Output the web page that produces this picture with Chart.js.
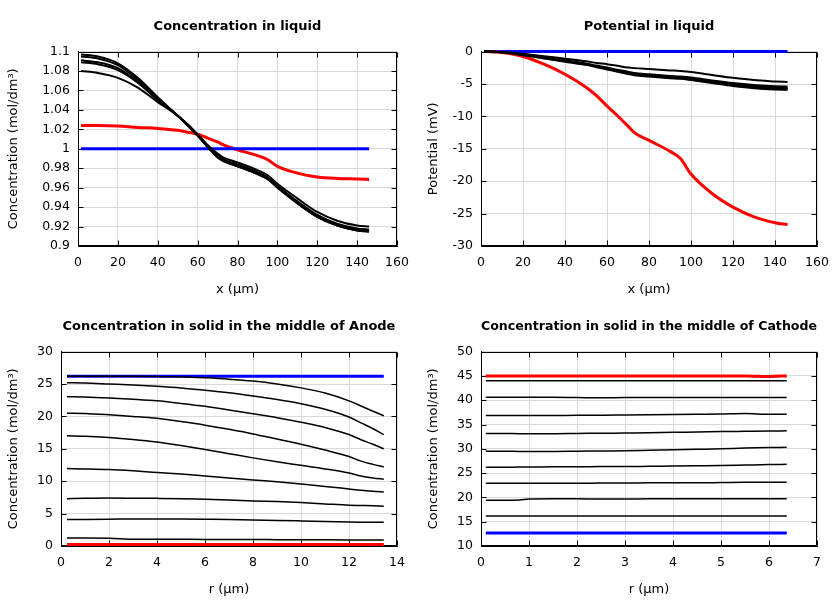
<!DOCTYPE html>
<html>
<head>
<meta charset="utf-8">
<script src="https://cdn.jsdelivr.net/npm/chart.js@4.4.1/dist/chart.umd.min.js"></script>
<style>
  body { margin:0; background:#fff; }
  #wrap { position:relative; width:840px; height:600px; }
  canvas { position:absolute; }
</style>
</head>
<body>
<div id="wrap">
  <canvas id="liqConc" width="420" height="300" style="left:0;top:0"></canvas>
  <canvas id="liqPot" width="420" height="300" style="left:420px;top:0"></canvas>
  <canvas id="anode" width="420" height="300" style="left:0;top:300px"></canvas>
  <canvas id="cathode" width="420" height="300" style="left:420px;top:300px"></canvas>
</div>
<script>
// --- liquid phase, x in µm ---
const xLiquid = [1.5, 10, 20, 30, 40, 50, 55, 60, 65, 70, 73, 80, 90, 95, 100, 110, 120, 130, 140, 146];

const concA = [1.080, 1.078, 1.073, 1.063, 1.048, 1.034, 1.025, 1.015, 1.004, 0.995, 0.991, 0.986, 0.978, 0.973, 0.964, 0.949, 0.935, 0.926, 0.921, 0.920];
const concB = [1.089, 1.087, 1.081, 1.068, 1.050, 1.034, 1.025, 1.014, 1.003, 0.993, 0.989, 0.984, 0.976, 0.971, 0.962, 0.946, 0.932, 0.923, 0.918, 0.917];
const concC = [1.091, 1.089, 1.083, 1.069, 1.051, 1.034, 1.025, 1.014, 1.002, 0.992, 0.988, 0.983, 0.975, 0.970, 0.961, 0.945, 0.931, 0.922, 0.917, 0.916];
const concD = [1.095, 1.093, 1.086, 1.071, 1.052, 1.034, 1.024, 1.0135, 1.002, 0.991, 0.987, 0.982, 0.974, 0.969, 0.960, 0.944, 0.930, 0.921, 0.916, 0.915];
const concE = [1.097, 1.095, 1.088, 1.073, 1.053, 1.034, 1.024, 1.0135, 1.002, 0.992, 0.988, 0.982, 0.974, 0.969, 0.961, 0.944, 0.930, 0.921, 0.916, 0.915];
const concRed = [1.024, 1.024, 1.0235, 1.022, 1.021, 1.019, 1.017, 1.015, 1.011, 1.007, 1.004, 0.999, 0.993, 0.989, 0.982, 0.975, 0.971, 0.9695, 0.969, 0.9685];
const concBlue = [1, 1, 1, 1, 1, 1, 1, 1, 1, 1, 1, 1, 1, 1, 1, 1, 1, 1, 1, 1];

const potL1 = [0, -0.05, -0.35, -0.7, -1.1, -1.5, -1.75, -1.95, -2.2, -2.45, -2.55, -2.7, -2.9, -3.0, -3.15, -3.6, -4.05, -4.4, -4.6, -4.7];
const potL2 = [0, -0.1, -0.45, -0.9, -1.35, -1.85, -2.15, -2.45, -2.8, -3.1, -3.3, -3.5, -3.75, -3.85, -4.0, -4.45, -4.85, -5.15, -5.35, -5.4];
const potL3 = [0, -0.1, -0.5, -0.95, -1.45, -1.95, -2.25, -2.55, -2.9, -3.25, -3.45, -3.65, -3.9, -4.0, -4.15, -4.6, -5.0, -5.35, -5.55, -5.6];
const potL4 = [0, -0.1, -0.5, -1.0, -1.5, -2.0, -2.3, -2.65, -3.0, -3.35, -3.55, -3.75, -4.0, -4.1, -4.3, -4.75, -5.15, -5.5, -5.7, -5.75];
const potL5 = [0, -0.1, -0.55, -1.05, -1.55, -2.05, -2.4, -2.75, -3.1, -3.45, -3.65, -3.85, -4.1, -4.2, -4.4, -4.85, -5.3, -5.65, -5.85, -5.9];
const potRed = [0, -0.15, -0.75, -1.95, -3.5, -5.5, -6.8, -8.4, -9.9, -11.5, -12.5, -13.7, -15.4, -16.5, -18.9, -21.9, -24.0, -25.5, -26.4, -26.7];
const potBlue = [0, 0, 0, 0, 0, 0, 0, 0, 0, 0, 0, 0, 0, 0, 0, 0, 0, 0, 0, 0];

// --- solid phase, r in µm ---
const rAnode = [0.25, 1, 2, 3, 4, 5, 6, 7, 8, 9, 10, 11, 12, 12.5, 13, 13.45];
const anode1 = [26.2, 26.2, 26.2, 26.2, 26.15, 26.1, 25.95, 25.75, 25.45, 25.0, 24.4, 23.6, 22.4, 21.6, 20.8, 20.1];
const anode2 = [25.2, 25.15, 25.0, 24.85, 24.65, 24.4, 24.05, 23.65, 23.15, 22.6, 21.95, 21.1, 19.9, 19.0, 18.1, 17.2];
const anode3 = [23.05, 23.0, 22.85, 22.65, 22.4, 22.0, 21.55, 21.0, 20.4, 19.8, 19.1, 18.3, 17.2, 16.4, 15.7, 15.0];
const anode4 = [20.5, 20.45, 20.25, 20.0, 19.7, 19.2, 18.65, 18.0, 17.3, 16.5, 15.7, 14.8, 13.8, 13.1, 12.6, 12.2];
const anode5 = [17.0, 16.95, 16.75, 16.45, 16.05, 15.5, 14.9, 14.25, 13.6, 13.0, 12.45, 11.9, 11.25, 10.8, 10.5, 10.3];
const anode6 = [11.95, 11.9, 11.8, 11.6, 11.35, 11.1, 10.8, 10.5, 10.2, 9.9, 9.55, 9.2, 8.8, 8.6, 8.45, 8.35];
const anode7 = [7.3, 7.35, 7.4, 7.38, 7.35, 7.3, 7.2, 7.1, 6.95, 6.85, 6.7, 6.5, 6.3, 6.25, 6.2, 6.15];
const anode8 = [4.1, 4.1, 4.12, 4.18, 4.17, 4.15, 4.12, 4.08, 4.0, 3.95, 3.87, 3.78, 3.7, 3.67, 3.65, 3.65];
const anode9 = [1.22, 1.22, 1.2, 1.05, 1.04, 1.03, 1.02, 1.0, 1.0, 0.98, 0.97, 0.95, 0.93, 0.92, 0.92, 0.92];
const anodeRed = [0.25, 0.25, 0.25, 0.25, 0.25, 0.25, 0.25, 0.25, 0.25, 0.25, 0.25, 0.25, 0.25, 0.25, 0.25, 0.25];
const anodeBlue = [26.2, 26.2, 26.2, 26.2, 26.2, 26.2, 26.2, 26.2, 26.2, 26.2, 26.2, 26.2, 26.2, 26.2, 26.2, 26.2];

const rCathode = [0.1, 0.5, 0.8, 1, 1.5, 2, 2.5, 3, 3.5, 4, 4.5, 5, 5.5, 6, 6.37];
const cath1 = [44.0, 44.0, 44.0, 44.0, 44.0, 44.0, 44.0, 44.0, 44.0, 44.0, 44.0, 44.0, 44.0, 44.0, 44.0];
const cath2 = [40.6, 40.6, 40.6, 40.6, 40.6, 40.55, 40.5, 40.55, 40.55, 40.55, 40.55, 40.55, 40.55, 40.55, 40.55];
const cath3 = [36.85, 36.85, 36.85, 36.85, 36.85, 36.9, 36.9, 36.95, 37.0, 37.05, 37.1, 37.15, 37.25, 37.1, 37.1];
const cath4 = [33.15, 33.15, 33.1, 33.1, 33.1, 33.15, 33.2, 33.25, 33.3, 33.4, 33.45, 33.55, 33.6, 33.65, 33.7];
const cath5 = [29.5, 29.5, 29.45, 29.45, 29.45, 29.5, 29.55, 29.6, 29.7, 29.8, 29.9, 30.0, 30.15, 30.25, 30.3];
const cath6 = [26.2, 26.2, 26.25, 26.25, 26.3, 26.3, 26.35, 26.35, 26.4, 26.45, 26.5, 26.55, 26.65, 26.75, 26.8];
const cath7 = [22.9, 22.9, 22.9, 22.9, 22.9, 22.9, 22.95, 22.95, 23.0, 23.0, 23.0, 23.05, 23.1, 23.1, 23.1];
const cath8 = [19.4, 19.4, 19.45, 19.65, 19.7, 19.7, 19.65, 19.65, 19.7, 19.7, 19.7, 19.7, 19.7, 19.7, 19.7];
const cath9 = [16.15, 16.15, 16.15, 16.15, 16.15, 16.15, 16.15, 16.15, 16.15, 16.15, 16.15, 16.15, 16.15, 16.15, 16.15];
const cathRed = [45.0, 45.0, 45.0, 45.0, 45.0, 45.0, 45.0, 45.0, 45.0, 45.0, 45.0, 45.0, 45.0, 44.9, 45.0];
const cathBlue = [12.65, 12.65, 12.65, 12.65, 12.65, 12.65, 12.65, 12.65, 12.65, 12.65, 12.65, 12.65, 12.65, 12.65, 12.65];

// tick values
const xTicksLiquid = [0, 20, 40, 60, 80, 100, 120, 140, 160];
const yTicksConc = [0.9, 0.92, 0.94, 0.96, 0.98, 1, 1.02, 1.04, 1.06, 1.08, 1.1];
const yTicksPot = [-30, -25, -20, -15, -10, -5, 0];
const xTicksAnode = [0, 2, 4, 6, 8, 10, 12, 14];
const yTicksAnode = [0, 5, 10, 15, 20, 25, 30];
const xTicksCathode = [0, 1, 2, 3, 4, 5, 6, 7];
const yTicksCathode = [10, 15, 20, 25, 30, 35, 40, 45, 50];

Chart.defaults.font.family = '"DejaVu Sans", sans-serif';
Chart.defaults.font.size = 13;
Chart.defaults.color = '#000';

const zip = (xs, ys) => xs.map((x, i) => ({ x, y: ys[i] }));

// gnuplot-ish frame: full box plus inward tick marks on all sides (drawn under the curves)
const frame = {
  id: 'frame',
  beforeDatasetsDraw(chart) {
    const { ctx, chartArea: a, scales } = chart;
    const L = Math.round(a.left) + .5, R = Math.round(a.right) - .5;
    const T = Math.round(a.top) + .5, B = Math.round(a.bottom) - .5;
    ctx.save();
    ctx.strokeStyle = '#000';
    ctx.lineWidth = 1;
    ctx.beginPath();
    scales.x.ticks.forEach(t => {
      const px = Math.round(scales.x.getPixelForValue(t.value)) + .5;
      ctx.moveTo(px, B); ctx.lineTo(px, B - 5);
      ctx.moveTo(px, T); ctx.lineTo(px, T + 5);
    });
    scales.y.ticks.forEach(t => {
      const py = Math.round(scales.y.getPixelForValue(t.value)) + .5;
      ctx.moveTo(L, py); ctx.lineTo(L + 5, py);
      ctx.moveTo(R, py); ctx.lineTo(R - 5, py);
    });
    ctx.stroke();
    ctx.strokeRect(L, T, R - L, B - T);
    ctx.restore();
  }
};

function line(xs, ys, color, width) {
  return {
    data: zip(xs, ys),
    borderColor: color,
    borderWidth: width,
    pointRadius: 0,
    fill: false,
    clip: 3,
    cubicInterpolationMode: 'monotone'
  };
}

function makeChart(id, { title, datasets, xTicks, yTicks, xTitle, yTitle, yWidth }) {
  return new Chart(document.getElementById(id), {
    type: 'line',
    data: { datasets },
    plugins: [frame],
    options: {
      responsive: false,
      animation: false,
      layout: { padding: { left: 0, right: 23, top: 0, bottom: 0 } },
      plugins: {
        legend: { display: false },
        tooltip: { enabled: false },
        title: {
          display: true, text: title, fullSize: false, color: '#000',
          font: { size: 13, weight: 'bold' },
          padding: { top: 19, bottom: 17 }
        }
      },
      scales: {
        x: {
          type: 'linear',
          min: xTicks[0], max: xTicks[xTicks.length - 1],
          afterBuildTicks: s => { s.ticks = xTicks.map(v => ({ value: v })); },
          afterFit: s => { s.height = 54; },
          ticks: { padding: 9, maxRotation: 0, font: { size: 12.5 }, callback: v => String(v) },
          grid: { color: '#d9d9d9', drawTicks: false },
          border: { color: '#000' },
          title: { display: true, text: xTitle, padding: { top: 0, bottom: 3 } }
        },
        y: {
          min: yTicks[0], max: yTicks[yTicks.length - 1],
          afterBuildTicks: s => { s.ticks = yTicks.map(v => ({ value: v })); },
          afterFit: s => { s.width = yWidth; },
          ticks: { padding: 8, font: { size: 12.5 }, callback: v => String(v) },
          grid: { color: '#d9d9d9', drawTicks: false },
          border: { color: '#000' },
          title: { display: true, text: yTitle, padding: { top: 6, bottom: 0 } }
        }
      }
    }
  });
}

const concUnit = 'Concentration (mol/dm³)';

makeChart('liqConc', {
  title: 'Concentration in liquid',
  xTicks: xTicksLiquid, yTicks: yTicksConc,
  xTitle: 'x (µm)', yTitle: concUnit, yWidth: 78,
  datasets: [
    line(xLiquid, concA, '#000', 2),
    line(xLiquid, concB, '#000', 2),
    line(xLiquid, concC, '#000', 2),
    line(xLiquid, concD, '#000', 2),
    line(xLiquid, concE, '#000', 2),
    line(xLiquid, concBlue, '#0000ff', 3),
    line(xLiquid, concRed, '#ff0000', 3)
  ]
});

makeChart('liqPot', {
  title: 'Potential in liquid',
  xTicks: xTicksLiquid, yTicks: yTicksPot,
  xTitle: 'x (µm)', yTitle: 'Potential (mV)', yWidth: 61,
  datasets: [
    line(xLiquid, potL1, '#000', 2),
    line(xLiquid, potL2, '#000', 2),
    line(xLiquid, potL3, '#000', 2),
    line(xLiquid, potL4, '#000', 2),
    line(xLiquid, potL5, '#000', 2),
    line(xLiquid, potRed, '#ff0000', 3),
    line(xLiquid, potBlue, '#0000ff', 3)
  ]
});

makeChart('anode', {
  title: 'Concentration in solid in the middle of Anode',
  xTicks: xTicksAnode, yTicks: yTicksAnode,
  xTitle: 'r (µm)', yTitle: concUnit, yWidth: 61,
  datasets: [
    line(rAnode, anode1, '#000', 1.5),
    line(rAnode, anode2, '#000', 1.5),
    line(rAnode, anode3, '#000', 1.5),
    line(rAnode, anode4, '#000', 1.5),
    line(rAnode, anode5, '#000', 1.5),
    line(rAnode, anode6, '#000', 1.5),
    line(rAnode, anode7, '#000', 1.5),
    line(rAnode, anode8, '#000', 1.5),
    line(rAnode, anode9, '#000', 1.5),
    line(rAnode, anodeRed, '#ff0000', 3),
    line(rAnode, anodeBlue, '#0000ff', 3)
  ]
});

makeChart('cathode', {
  title: 'Concentration in solid in the middle of Cathode',
  xTicks: xTicksCathode, yTicks: yTicksCathode,
  xTitle: 'r (µm)', yTitle: concUnit, yWidth: 61,
  datasets: [
    line(rCathode, cath1, '#000', 1.5),
    line(rCathode, cath2, '#000', 1.5),
    line(rCathode, cath3, '#000', 1.5),
    line(rCathode, cath4, '#000', 1.5),
    line(rCathode, cath5, '#000', 1.5),
    line(rCathode, cath6, '#000', 1.5),
    line(rCathode, cath7, '#000', 1.5),
    line(rCathode, cath8, '#000', 1.5),
    line(rCathode, cath9, '#000', 1.5),
    line(rCathode, cathRed, '#ff0000', 3),
    line(rCathode, cathBlue, '#0000ff', 3)
  ]
});
</script>
</body>
</html>
